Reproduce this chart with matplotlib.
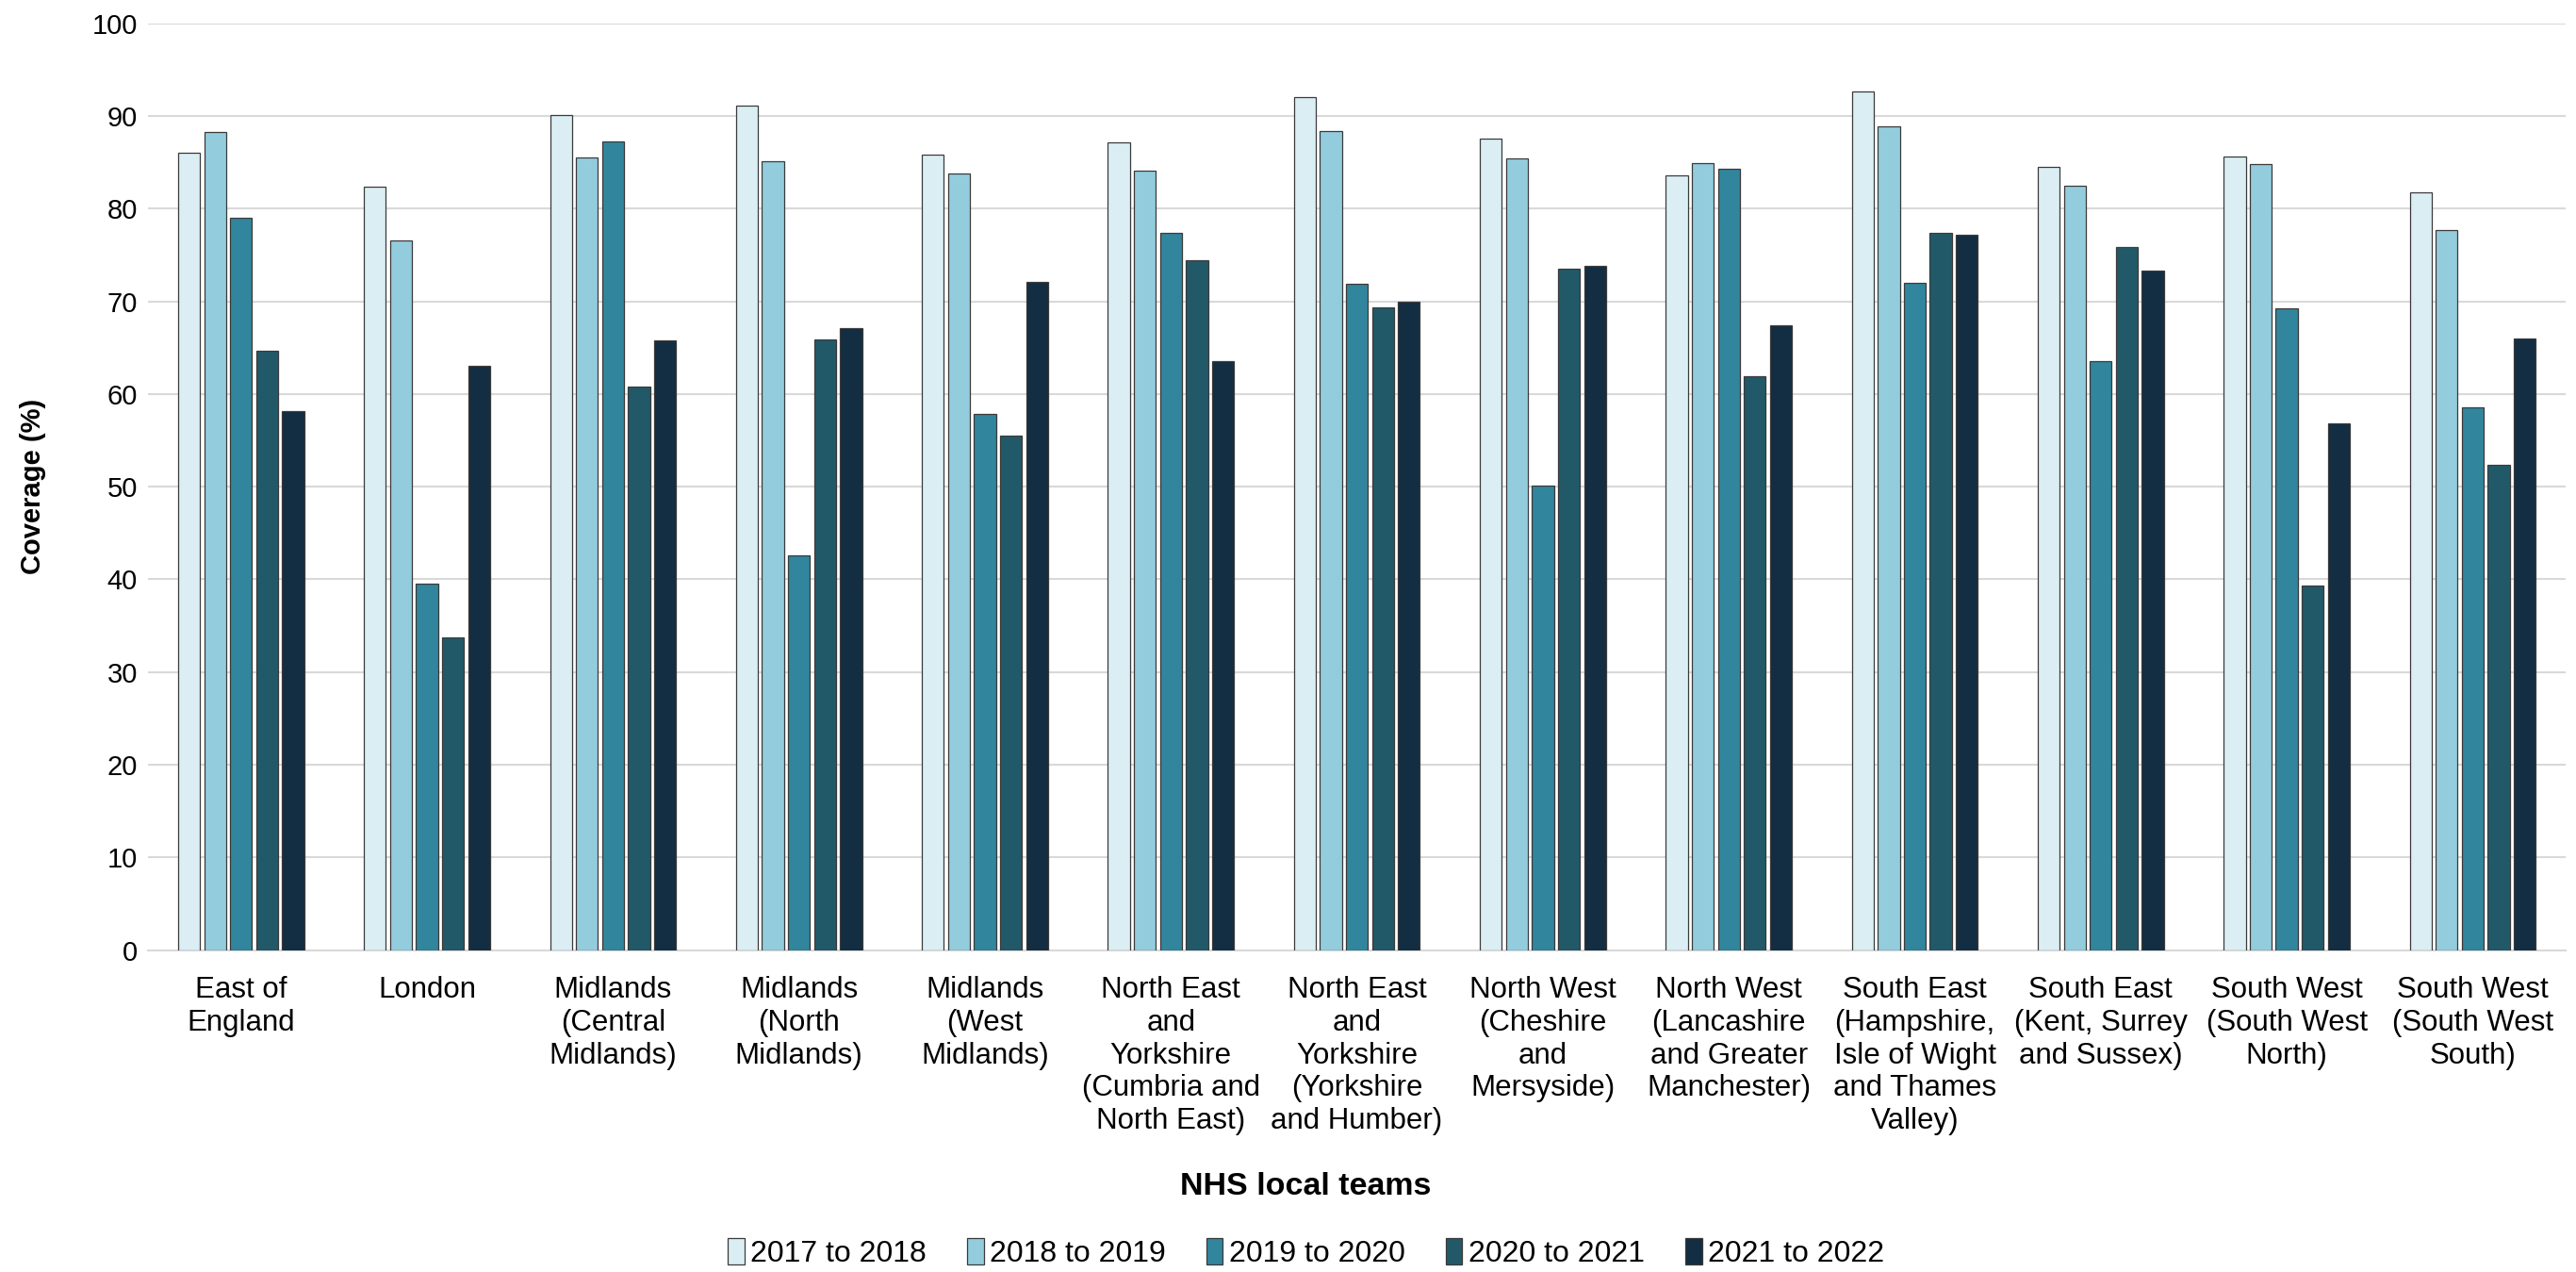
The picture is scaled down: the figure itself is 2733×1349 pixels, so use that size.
import numpy as np
import matplotlib.pyplot as plt

plt.rcParams['font.family'] = ['Liberation Sans', 'DejaVu Sans']

teams = ['East of\nEngland', 'London', 'Midlands\n(Central\nMidlands)',
         'Midlands\n(North\nMidlands)', 'Midlands\n(West\nMidlands)',
         'North East\nand\nYorkshire\n(Cumbria and\nNorth East)',
         'North East\nand\nYorkshire\n(Yorkshire\nand Humber)',
         'North West\n(Cheshire\nand\nMersyside)',
         'North West\n(Lancashire\nand Greater\nManchester)',
         'South East\n(Hampshire,\nIsle of Wight\nand Thames\nValley)',
         'South East\n(Kent, Surrey\nand Sussex)',
         'South West\n(South West\nNorth)', 'South West\n(South West\nSouth)']

years = ['2017 to 2018', '2018 to 2019', '2019 to 2020', '2020 to 2021', '2021 to 2022']

cov_2017 = [86.0, 82.4, 90.1, 91.1, 85.8, 87.1, 92.0, 87.6, 83.6, 92.6, 84.5, 85.6, 81.8]
cov_2018 = [88.3, 76.6, 85.5, 85.1, 83.8, 84.1, 88.4, 85.4, 84.9, 88.9, 82.5, 84.8, 77.7]
cov_2019 = [79.0, 39.5, 87.3, 42.6, 57.9, 77.4, 71.9, 50.1, 84.3, 72.0, 63.6, 69.2, 58.6]
cov_2020 = [64.7, 33.7, 60.8, 65.9, 55.5, 74.4, 69.3, 73.5, 61.9, 77.4, 75.9, 39.3, 52.4]
cov_2021 = [58.2, 63.0, 65.8, 67.1, 72.1, 63.5, 70.0, 73.8, 67.4, 77.2, 73.3, 56.8, 66.0]

series = [cov_2017, cov_2018, cov_2019, cov_2020, cov_2021]
colors = ['#DBEEF4', '#93CDDD', '#31859C', '#215968', '#132D42']

fig = plt.figure(figsize=(27.33, 13.49), dpi=100)
ax = fig.add_axes([0.0575, 0.253, 0.9385, 0.7287])

x = np.arange(len(teams))
step = 0.14
for i, (vals, col) in enumerate(zip(series, colors)):
    ax.bar(x + (i - 2) * step, vals, width=0.118, color=col,
           edgecolor='#3a3a3a', linewidth=0.9, label=years[i], zorder=3)

ax.set_ylim(0, 100)
ax.set_yticks(range(0, 101, 10))
ax.set_xlim(-0.5, len(teams) - 0.5)
ax.set_xticks(x)
ax.set_xticklabels(teams, fontsize=22.5, linespacing=1.2)
ax.tick_params(axis='y', labelsize=21, length=0, pad=8)
ax.tick_params(axis='x', length=0, pad=20)
ax.yaxis.grid(True, color='#D9D9D9', linewidth=1.5, zorder=0)
for s in ['top', 'right', 'left']:
    ax.spines[s].set_visible(False)
ax.spines['bottom'].set_color('#D9D9D9')
ax.spines['bottom'].set_linewidth(1.5)

ax.set_ylabel('Coverage (%)', fontsize=21, fontweight='bold')
ax.yaxis.set_label_coords(-0.042, 0.5)

fig.text(0.507, 0.067, 'NHS local teams', fontsize=24.5, fontweight='bold',
         ha='center', va='center')

fig.legend(loc='center', bbox_to_anchor=(0.507, 0.015), ncol=5, frameon=False,
           fontsize=23, handlelength=0.55, handleheight=1.0, handletextpad=0.2,
           columnspacing=1.35)

fig.savefig('out.png', dpi=100)
